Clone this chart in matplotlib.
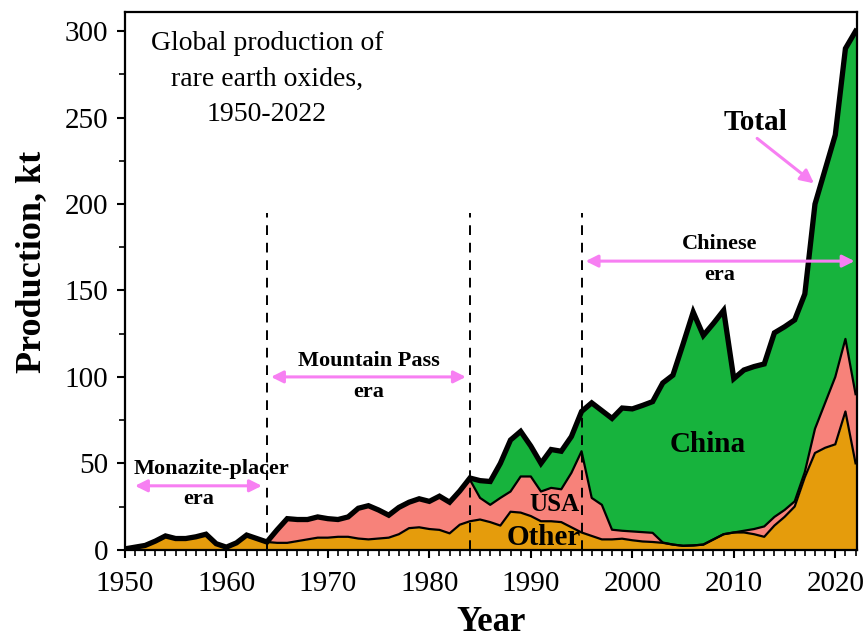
import matplotlib.pyplot as plt
import numpy as np
import matplotlib.ticker as ticker

plt.rcParams['font.family'] = ['Liberation Serif', 'DejaVu Serif']

# Data (kt of rare earth oxides)
years = list(range(1950, 2023))

other = [0.5, 1.5, 2.5, 5, 8, 6.5, 6.5, 7.5, 9, 3.5,
         1.5, 4, 8.5, 6.5, 4.5, 4, 4, 5, 6, 7,
         7, 7.5, 7.5, 6.5, 6, 6.5, 7, 9, 12.5, 13,
         12, 11.5, 9.5, 14.5, 16.5, 17.5, 16, 14, 22, 21.5,
         19.5, 16.5, 16.5, 16, 13, 10, 8, 6, 6, 6.4,
         5.5, 4.8, 4.5, 4, 3, 2.3, 2.5, 3, 6, 9,
         10, 10, 9, 7.5, 14, 19, 25, 42, 56, 59,
         61, 80, 50]

usa = [0, 0, 0, 0, 0, 0, 0, 0, 0, 0,
       0, 0, 0, 0, 0, 7.5, 14, 12.5, 11.5, 12,
       11, 10, 11.5, 17.5, 19.5, 16.5, 13, 15.5, 15, 16.5,
       16, 19.5, 18, 19.5, 24, 12.5, 10, 16, 11.7, 20.9,
       22.9, 17.2, 19.3, 19, 31.5, 47, 22, 20, 5.6, 4.6,
       5.1, 5.4, 5.3, 0.2, 0, 0, 0, 0, 0, 0,
       0, 1, 3, 6, 5, 4, 3, 3, 14, 26,
       39, 42, 40]

china = [0, 0, 0, 0, 0, 0, 0, 0, 0, 0,
         0, 0, 0, 0, 0, 0, 0, 0, 0, 0,
         0, 0, 0, 0, 0, 0, 0, 0, 0, 0,
         0, 0, 0, 0, 1, 10, 13.5, 20, 29.8, 26.1,
         17.6, 16.3, 22.2, 22, 21, 23, 55, 54.5, 64.4, 71,
         70.9, 73.3, 75.9, 92.3, 98, 116.7, 135, 121, 125, 129.5,
         89, 93, 94, 94, 106.5, 106, 105, 103, 130, 135,
         140, 168, 210]

x = np.array(years)
o = np.array(other)
u = o + np.array(usa)
t = u + np.array(china)

c_other = '#E59C0C'
c_usa = '#F7827A'
c_china = '#17B33D'
c_arrow = '#F77FF2'

fig = plt.figure(figsize=(8.67, 6.43), dpi=100)
ax = fig.add_axes([0.144, 0.145, 0.844, 0.836])

ax.fill_between(x, 0, o, color=c_other, lw=0)
ax.fill_between(x, o, u, color=c_usa, lw=0)
ax.fill_between(x, u, t, color=c_china, lw=0)
ax.plot(x, o, 'k-', lw=1.6)
ax.plot(x, u, 'k-', lw=1.6)
ax.plot(x, t, 'k-', lw=3.8, solid_joinstyle='miter')

# era boundaries
for yr in [1964, 1984, 1995]:
    ax.plot([yr, yr], [0, 195], 'k--', lw=1.4, dashes=(5, 4))

def era(x0, x1, y, top, bottom, dtop, dbot, xtop=None):
    ax.annotate('', xy=(x0, y), xytext=(x1, y),
                arrowprops=dict(arrowstyle='<|-|>', color=c_arrow, lw=2.2,
                                mutation_scale=18, shrinkA=0, shrinkB=0))
    xm = 0.5 * (x0 + x1)
    ax.text(xm if xtop is None else xtop, y + dtop, top, ha='center', va='center',
            fontsize=16, fontweight='bold')
    ax.text(xm, y - dbot, bottom, ha='center', va='center', fontsize=16, fontweight='bold')

era(1951.0, 1963.5, 37, 'Monazite-placer', 'era', 10, 7.5, xtop=1958.5)
era(1964.4, 1983.6, 100, 'Mountain Pass', 'era', 9, 9)
era(1995.4, 2021.9, 167, 'Chinese', 'era', 10, 8)

ax.annotate('', xy=(2017.9, 212), xytext=(2012.3, 238),
            arrowprops=dict(arrowstyle='-|>', color=c_arrow, lw=2.2,
                            mutation_scale=20, shrinkA=0, shrinkB=0))
ax.text(2012.1, 247, 'Total', ha='center', va='center', fontsize=21, fontweight='bold')

ax.text(2007.4, 61, 'China', ha='center', va='center', fontsize=21, fontweight='bold')
ax.text(1992.3, 26, 'USA', ha='center', va='center', fontsize=18, fontweight='bold')
ax.text(1991.3, 7, 'Other', ha='center', va='center', fontsize=21, fontweight='bold')

ax.text(1964.0, 300, 'Global production of\nrare earth oxides,\n1950-2022',
        ha='center', va='top', fontsize=20, linespacing=1.55)

ax.set_xlim(1950, 2022.1)
ax.set_ylim(0, 311)
ax.xaxis.set_major_locator(ticker.MultipleLocator(10))
ax.xaxis.set_minor_locator(ticker.MultipleLocator(1))
ax.yaxis.set_major_locator(ticker.MultipleLocator(50))
ax.yaxis.set_minor_locator(ticker.MultipleLocator(25))
ax.tick_params(axis='both', which='major', direction='out', length=6, width=1.5,
               labelsize=21, top=False, right=False)
ax.tick_params(axis='both', which='minor', direction='out', length=4, width=1.2,
               top=False, right=False)
ax.tick_params(axis='x', which='major', pad=9)
ax.tick_params(axis='y', which='major', pad=6)

for s in ax.spines.values():
    s.set_linewidth(1.6)

ax.set_xlabel('Year', fontsize=25, fontweight='bold', labelpad=7)
ax.set_ylabel('Production, kt', fontsize=26, fontweight='bold')
ax.yaxis.set_label_coords(-0.105, 0.535)

fig.savefig('out.png', dpi=100)
